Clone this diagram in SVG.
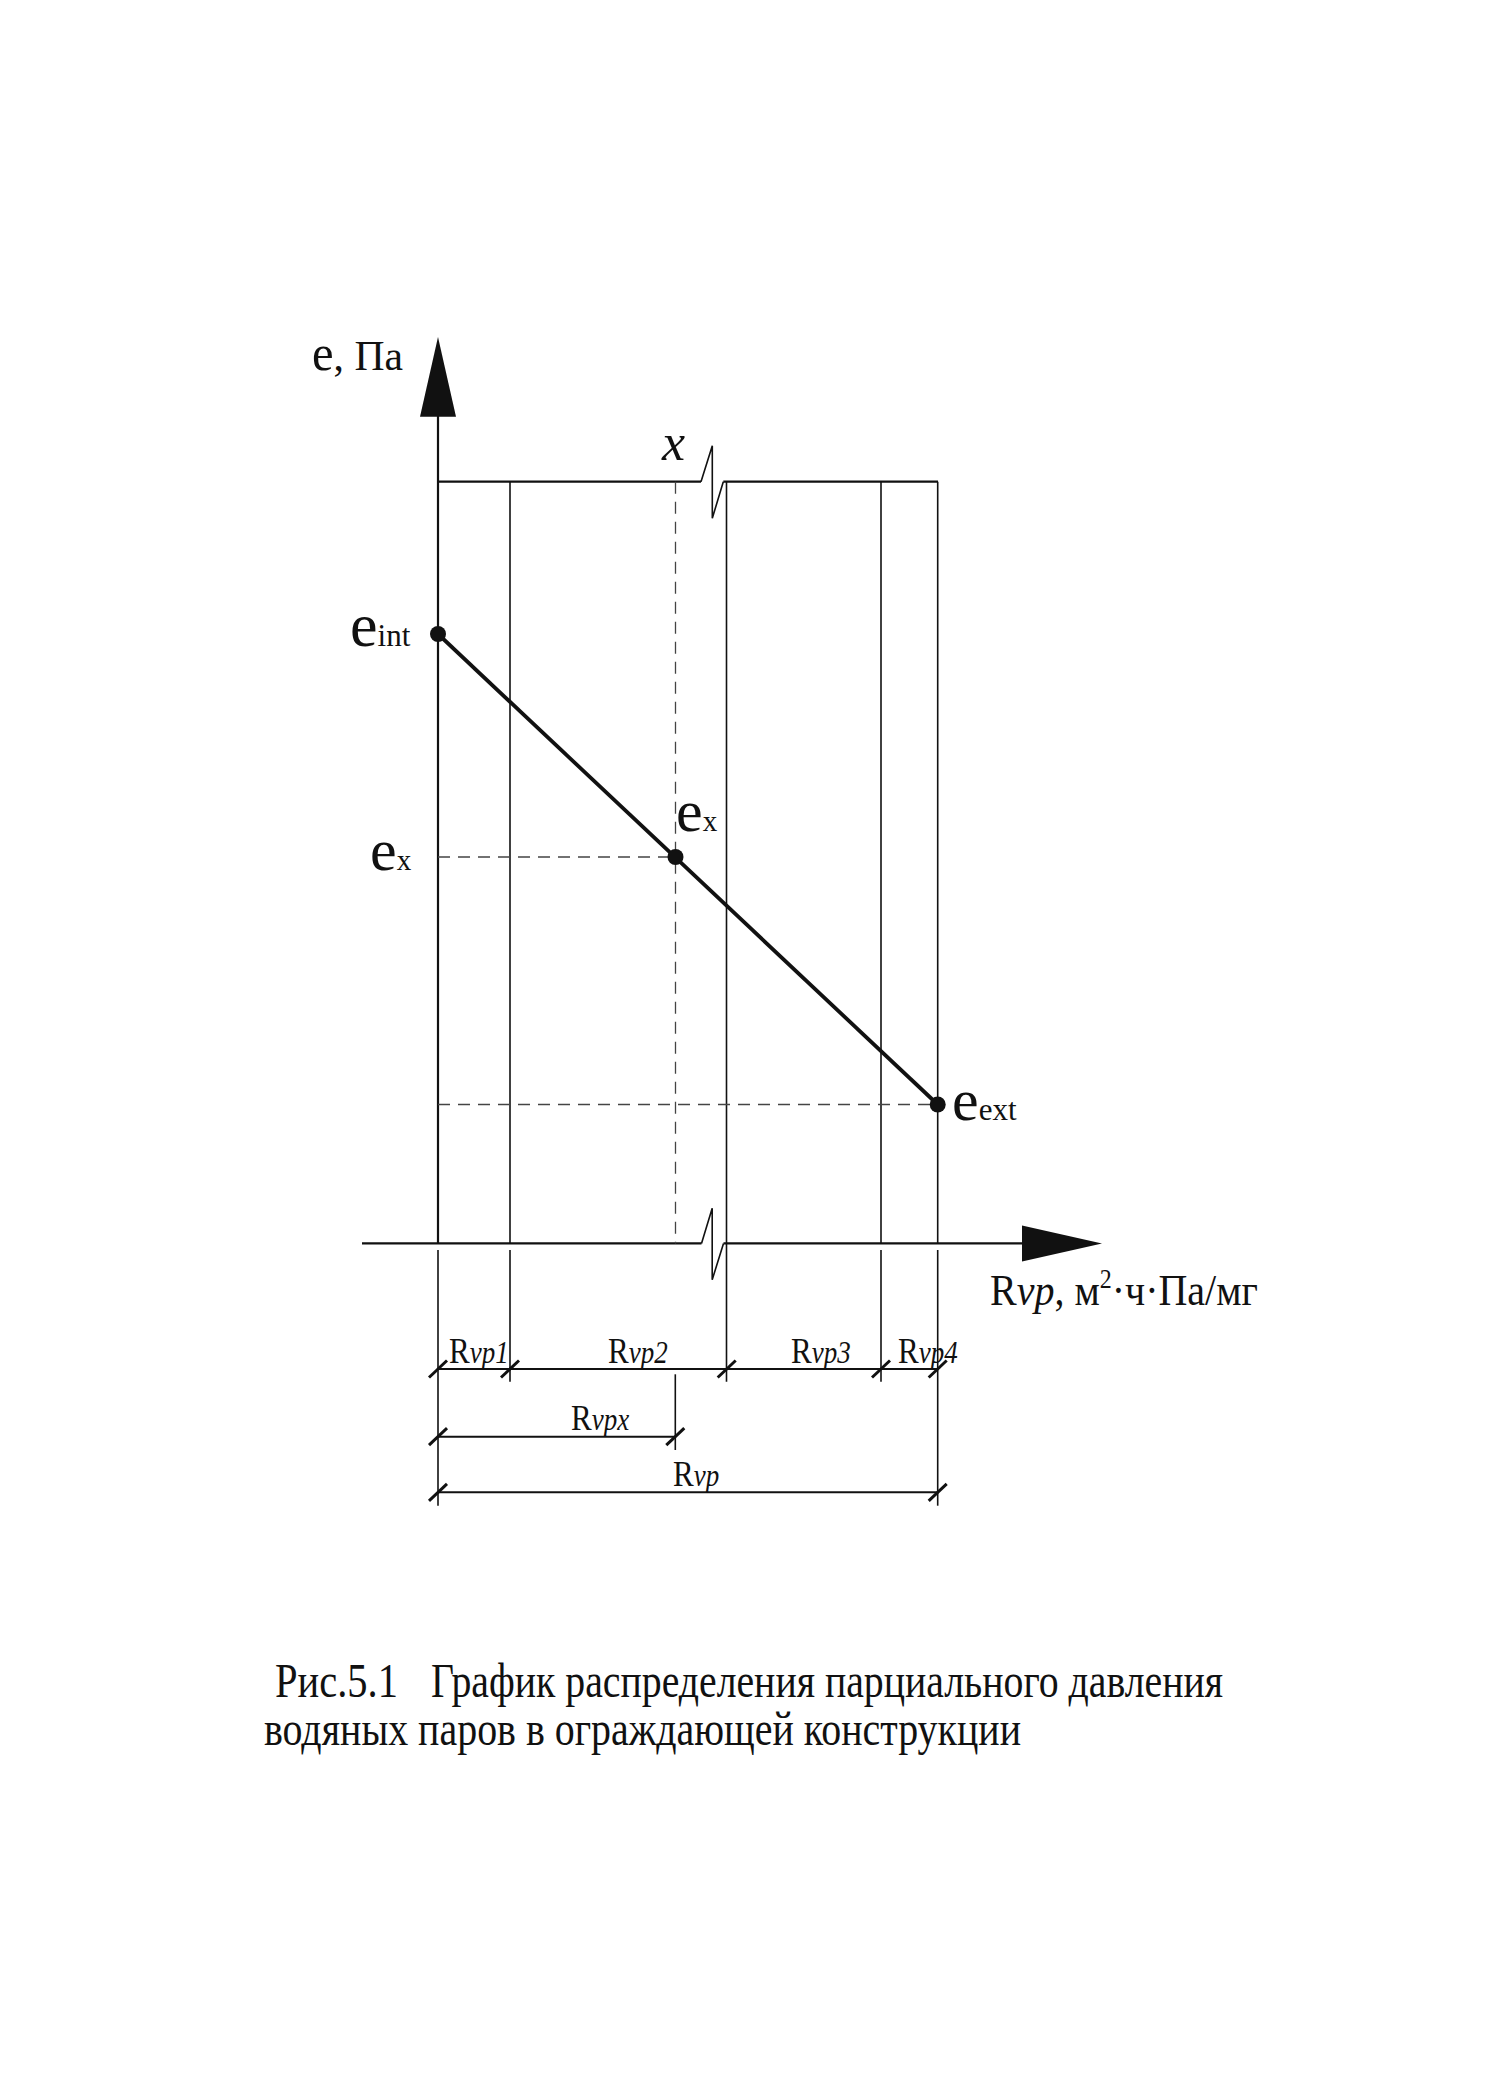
<svg xmlns="http://www.w3.org/2000/svg" width="1499" height="2099" viewBox="0 0 1499 2099">
<style>
.bg{fill:#ffffff}
.thin{stroke:#111;stroke-width:1.6;fill:none}
.axis{stroke:#111;stroke-width:2.2;fill:none}
.dash{stroke:#444;stroke-width:1.3;fill:none;stroke-dasharray:12 8}
.main{stroke:#111;stroke-width:3.8;fill:none}
.dim{stroke:#111;stroke-width:2;fill:none}
.tick{stroke:#111;stroke-width:3;fill:none}
.arrow{fill:#111}
.dot{fill:#111}
.t{font-family:"Liberation Serif","Times New Roman",serif;fill:#111}
.it{font-style:italic}
</style>
<rect class="bg" x="0" y="0" width="1499" height="2099"/>

<g id="connectors">
  <line class="axis" x1="438" y1="410" x2="438" y2="1243.4"/>
  <polygon class="arrow" points="438,337 420,416.7 456,416.7"/>
  <polyline class="axis" points="438,481.7 701,481.7"/>
  <polyline class="thin" points="701,481.7 712.3,445.7 712.3,518.3 723.3,481.7"/>
  <polyline class="axis" points="723.3,481.7 938,481.7"/>
  <polyline class="axis" points="362,1243.4 701.5,1243.4"/>
  <polyline class="thin" points="701.5,1243.4 712.2,1208.2 712.2,1279.8 723.5,1243.4"/>
  <polyline class="axis" points="723.5,1243.4 1030,1243.4"/>
  <polygon class="arrow" points="1102,1243.4 1022,1225.4 1022,1261.4"/>
  <line class="thin" x1="510" y1="481.7" x2="510" y2="1243.4"/>
  <line class="thin" x1="726.5" y1="481.7" x2="726.5" y2="1381.7"/>
  <line class="thin" x1="881" y1="481.7" x2="881" y2="1243.4"/>
  <line class="thin" x1="937.7" y1="481.7" x2="937.7" y2="1243.4"/>
  <line class="thin" x1="438" y1="1250" x2="438" y2="1505.7"/>
  <line class="thin" x1="510" y1="1250" x2="510" y2="1381.7"/>
  <line class="thin" x1="881" y1="1250" x2="881" y2="1381.7"/>
  <line class="thin" x1="937.7" y1="1250" x2="937.7" y2="1505.7"/>
  <line class="thin" x1="675.3" y1="1374.3" x2="675.3" y2="1450"/>
  <line class="dash" x1="675.5" y1="481.7" x2="675.5" y2="1243.4"/>
  <line class="dash" x1="438" y1="857" x2="675.5" y2="857"/>
  <line class="dash" x1="438" y1="1104.5" x2="937.7" y2="1104.5"/>
  <line class="main" x1="438" y1="634" x2="937.7" y2="1104.5"/>
  <line class="dim" x1="438" y1="1369" x2="937.7" y2="1369"/>
  <line class="dim" x1="438" y1="1436.7" x2="675.3" y2="1436.7"/>
  <line class="dim" x1="438" y1="1492.3" x2="937.7" y2="1492.3"/>
  <g class="tick">
    <line x1="429" y1="1377.5" x2="447" y2="1360.5"/>
    <line x1="501" y1="1377.5" x2="519" y2="1360.5"/>
    <line x1="717.7" y1="1377.5" x2="735.7" y2="1360.5"/>
    <line x1="872" y1="1377.5" x2="890" y2="1360.5"/>
    <line x1="928.7" y1="1377.5" x2="946.7" y2="1360.5"/>
    <line x1="429" y1="1445.2" x2="447" y2="1428.2"/>
    <line x1="666.3" y1="1445.2" x2="684.3" y2="1428.2"/>
    <line x1="429" y1="1500.8" x2="447" y2="1483.8"/>
    <line x1="928.7" y1="1500.8" x2="946.7" y2="1483.8"/>
  </g>
</g>

<g id="point-eint">
  <circle class="dot" cx="438" cy="634" r="8"/>
  <text class="t" x="350" y="646" font-size="62">e<tspan font-size="31">int</tspan></text>
</g>
<g id="point-ex">
  <circle class="dot" cx="675.5" cy="857" r="8"/>
  <text class="t" x="676" y="831" font-size="60">e<tspan font-size="29">x</tspan></text>
</g>
<g id="label-ex-axis">
  <text class="t" x="370" y="870" font-size="60">e<tspan font-size="29">x</tspan></text>
</g>
<g id="point-eext">
  <circle class="dot" cx="937.7" cy="1104.5" r="8"/>
  <text class="t" x="952" y="1120" font-size="60">e<tspan font-size="31">ext</tspan></text>
</g>

<g id="label-y-axis">
  <text class="t" transform="translate(312,370) scale(1,1.2)" x="0" y="0" font-size="36" textLength="91" lengthAdjust="spacingAndGlyphs"><tspan font-size="42">e</tspan>, Па</text>
</g>
<g id="label-x">
  <text class="t it" x="662" y="460" font-size="52">x</text>
</g>
<g id="label-x-axis">
  <text class="t" transform="translate(990,1305) scale(1,1.12)" x="0" y="0" font-size="40">R<tspan class="it">vp</tspan>, м<tspan font-size="24" dy="-15">2</tspan><tspan dy="15">·ч·Па/мг</tspan></text>
</g>

<g id="dim-labels">
  <text class="t" transform="translate(449,1363) scale(1,1.15)" font-size="31">R<tspan class="it" font-size="27">vp1</tspan></text>
  <text class="t" transform="translate(608,1363) scale(1,1.15)" font-size="31">R<tspan class="it" font-size="27">vp2</tspan></text>
  <text class="t" transform="translate(791,1363) scale(1,1.15)" font-size="31">R<tspan class="it" font-size="27">vp3</tspan></text>
  <text class="t" transform="translate(898,1363) scale(1,1.15)" font-size="31">R<tspan class="it" font-size="27">vp4</tspan></text>
  <text class="t" transform="translate(571,1430) scale(1,1.15)" font-size="31">R<tspan class="it" font-size="27">vpx</tspan></text>
  <text class="t" transform="translate(673,1486) scale(1,1.15)" font-size="31">R<tspan class="it" font-size="27">vp</tspan></text>
</g>

<g id="caption">
  <text class="t" transform="translate(275,1697) scale(1,1.2)" font-size="40" textLength="123" lengthAdjust="spacingAndGlyphs">Рис.5.1</text>
  <text class="t" transform="translate(431,1697) scale(1,1.2)" font-size="40" textLength="792" lengthAdjust="spacingAndGlyphs">График распределения парциального давления</text>
  <text class="t" transform="translate(264,1745) scale(1,1.2)" font-size="40" textLength="757" lengthAdjust="spacingAndGlyphs">водяных паров в ограждающей конструкции</text>
</g>
</svg>
